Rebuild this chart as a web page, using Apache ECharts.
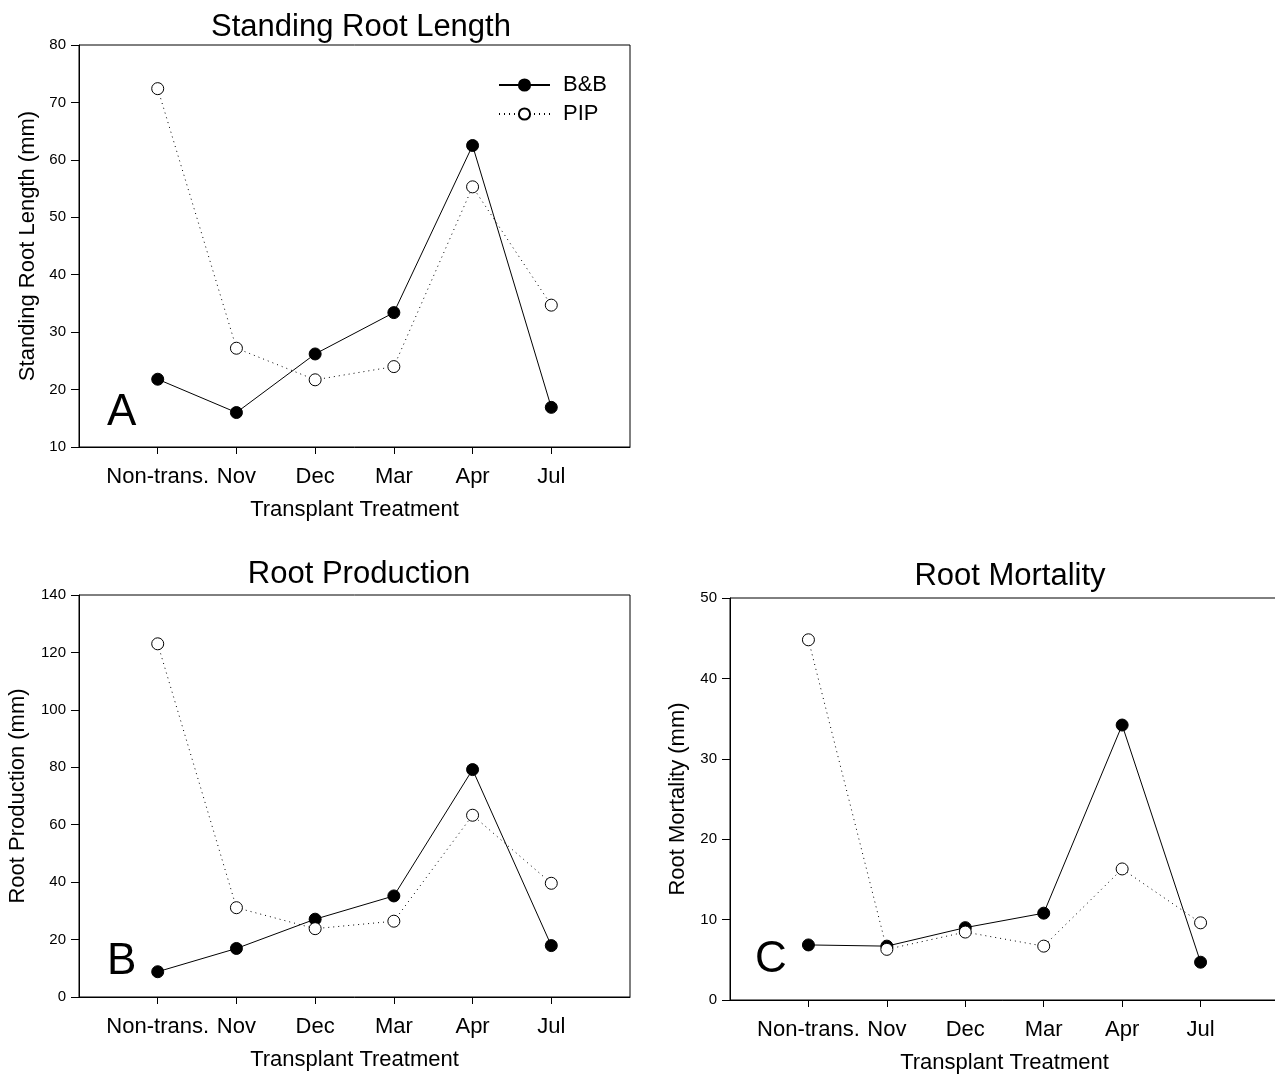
<!DOCTYPE html>
<html>
<head>
<meta charset="utf-8">
<script src="https://cdn.jsdelivr.net/npm/echarts@6/dist/echarts.min.js"></script>
<style>html,body{margin:0;padding:0;background:#fff;overflow:hidden;}#c{width:1275px;height:1078px;}</style>
</head>
<body>
<div id="c"></div>
<script>
// Categories (padded with empty slots at both ends)
const categories = ['', 'Non-trans.', 'Nov', 'Dec', 'Mar', 'Apr', 'Jul', ''];
// Panel A: Standing Root Length (mm)
const standingBB  = [null, 21.8, 16.0, 26.2, 33.4, 62.5, 16.9, null];
const standingPIP = [null, 72.4, 27.2, 21.7, 24.0, 55.3, 34.7, null];
// Panel B: Root Production (mm)
const prodBB  = [null, 8.8, 16.9, 27.1, 35.2, 79.2, 17.9, null];
const prodPIP = [null, 123.0, 31.1, 23.8, 26.4, 63.3, 39.6, null];
// Panel C: Root Mortality (mm)
const mortBB  = [null, 6.85, 6.7, 9.0, 10.8, 34.2, 4.7, null];
const mortPIP = [null, 44.8, 6.3, 8.45, 6.7, 16.3, 9.6, null];

const FONT = '"Liberation Sans", Arial, sans-serif';
const chart = echarts.init(document.getElementById('c'), null, {renderer: 'canvas'});

function xAxis(gi) {
  return {
    type: 'category', gridIndex: gi, data: categories, boundaryGap: false,
    axisLine: {show: true, lineStyle: {color: '#000', width: 1}},
    axisTick: {show: true, length: 7, interval: (i) => i > 0 && i < 7, lineStyle: {color: '#000'}},
    axisLabel: {interval: (i) => i > 0 && i < 7, color: '#000', fontFamily: FONT, fontSize: 22, margin: 19},
    splitLine: {show: false},
    name: 'Transplant Treatment', nameLocation: 'middle', nameGap: 52,
    nameTextStyle: {color: '#000', fontFamily: FONT, fontSize: 22}
  };
}
function yAxis(gi, min, max, interval, name, gap) {
  return {
    type: 'value', gridIndex: gi, min: min, max: max, interval: interval,
    axisLine: {show: true, lineStyle: {color: '#000', width: 1}},
    axisTick: {show: true, length: 8, lineStyle: {color: '#000'}},
    axisLabel: {color: '#000', fontFamily: FONT, fontSize: 15, margin: 13},
    splitLine: {show: false},
    name: name, nameLocation: 'middle', nameGap: gap,
    nameTextStyle: {color: '#000', fontFamily: FONT, fontSize: 22}
  };
}
function bb(gi, data) {
  return {
    name: 'B&B', type: 'line', xAxisIndex: gi, yAxisIndex: gi, data: data,
    symbol: 'circle', symbolSize: 12, showSymbol: true,
    lineStyle: {color: '#000', width: 1, type: 'solid'},
    itemStyle: {color: '#000', borderColor: '#000', borderWidth: 1},
    connectNulls: false, animation: false, z: 3
  };
}
function pip(gi, data) {
  return {
    name: 'PIP', type: 'line', xAxisIndex: gi, yAxisIndex: gi, data: data,
    symbol: 'circle', symbolSize: 12, showSymbol: true,
    lineStyle: {color: '#000', width: 1, type: [1, 4]},
    itemStyle: {color: '#fff', borderColor: '#000', borderWidth: 1},
    connectNulls: false, animation: false, z: 4
  };
}

const titleStyle = {color: '#000', fontFamily: FONT, fontSize: 31, fontWeight: 'normal'};
const gridBase = {show: true, borderColor: '#000', borderWidth: 1, backgroundColor: 'transparent', containLabel: false, outerBoundsMode: 'none'};

chart.setOption({
  backgroundColor: '#fff',
  animation: false,
  title: [
    {text: 'Standing Root Length', left: 356, top: 7, textAlign: 'center', textStyle: titleStyle},
    {text: 'Root Production', left: 354, top: 554, textAlign: 'center', textStyle: titleStyle},
    {text: 'Root Mortality', left: 1005, top: 556, textAlign: 'center', textStyle: titleStyle}
  ],
  legend: {
    data: ['B&B', 'PIP'], orient: 'vertical', left: 498, top: 74, padding: 0,
    itemWidth: 51, itemHeight: 14, itemGap: 7,
    textStyle: {color: '#000', fontFamily: FONT, fontSize: 22, padding: [0, 0, 0, 8]},
    selectedMode: false
  },
  grid: [
    Object.assign({left: 79, top: 45, width: 551, height: 402}, gridBase),
    Object.assign({left: 79, top: 595, width: 551, height: 402}, gridBase),
    Object.assign({left: 730, top: 598, width: 549, height: 402}, gridBase)
  ],
  xAxis: [xAxis(0), xAxis(1), xAxis(2)],
  yAxis: [
    yAxis(0, 10, 80, 10, 'Standing Root Length (mm)', 40),
    yAxis(1, 0, 140, 20, 'Root Production (mm)', 50),
    yAxis(2, 0, 50, 10, 'Root Mortality (mm)', 41)
  ],
  series: [
    bb(0, standingBB), pip(0, standingPIP),
    bb(1, prodBB), pip(1, prodPIP),
    bb(2, mortBB), pip(2, mortPIP)
  ],
  graphic: [
    {type: 'text', left: 107, top: 391, style: {text: 'A', fill: '#000', font: '44px ' + FONT}},
    {type: 'text', left: 107, top: 940, style: {text: 'B', fill: '#000', font: '44px ' + FONT}},
    {type: 'text', left: 755, top: 938, style: {text: 'C', fill: '#000', font: '44px ' + FONT}}
  ]
});
</script>
</body>
</html>
